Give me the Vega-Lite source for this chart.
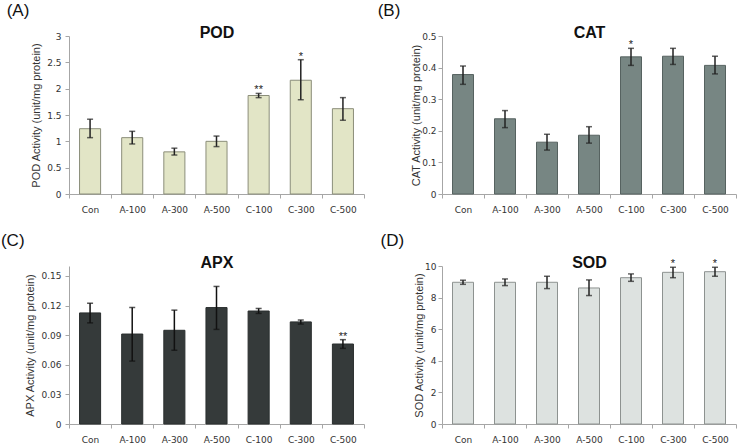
{
"$schema": "https://vega.github.io/schema/vega-lite/v6.json",
"background": "white",
"padding": {"left": 0, "top": 2, "right": 0, "bottom": 0},
"datasets": {
 "pod": [
  {"g":"Con","v":1.24,"lo":1.07,"hi":1.42,"s":""},
  {"g":"A-100","v":1.07,"lo":0.95,"hi":1.19,"s":""},
  {"g":"A-300","v":0.80,"lo":0.74,"hi":0.87,"s":""},
  {"g":"A-500","v":1.00,"lo":0.90,"hi":1.10,"s":""},
  {"g":"C-100","v":1.87,"lo":1.83,"hi":1.91,"s":"**"},
  {"g":"C-300","v":2.16,"lo":1.79,"hi":2.55,"s":"*"},
  {"g":"C-500","v":1.62,"lo":1.40,"hi":1.83,"s":""}
 ],
 "cat": [
  {"g":"Con","v":0.378,"lo":0.347,"hi":0.405,"s":""},
  {"g":"A-100","v":0.238,"lo":0.210,"hi":0.264,"s":""},
  {"g":"A-300","v":0.164,"lo":0.139,"hi":0.189,"s":""},
  {"g":"A-500","v":0.186,"lo":0.161,"hi":0.213,"s":""},
  {"g":"C-100","v":0.434,"lo":0.407,"hi":0.461,"s":"*"},
  {"g":"C-300","v":0.436,"lo":0.410,"hi":0.461,"s":""},
  {"g":"C-500","v":0.407,"lo":0.380,"hi":0.436,"s":""}
 ],
 "apx": [
  {"g":"Con","v":0.1125,"lo":0.1024,"hi":0.1223,"s":""},
  {"g":"A-100","v":0.0911,"lo":0.0637,"hi":0.1180,"s":""},
  {"g":"A-300","v":0.0949,"lo":0.0747,"hi":0.1153,"s":""},
  {"g":"A-500","v":0.1179,"lo":0.0958,"hi":0.1393,"s":""},
  {"g":"C-100","v":0.1144,"lo":0.1120,"hi":0.1170,"s":""},
  {"g":"C-300","v":0.1034,"lo":0.1012,"hi":0.1053,"s":""},
  {"g":"C-500","v":0.0810,"lo":0.0766,"hi":0.0854,"s":"**"}
 ],
 "sod": [
  {"g":"Con","v":8.97,"lo":8.84,"hi":9.10,"s":""},
  {"g":"A-100","v":8.97,"lo":8.76,"hi":9.18,"s":""},
  {"g":"A-300","v":8.97,"lo":8.57,"hi":9.35,"s":""},
  {"g":"A-500","v":8.61,"lo":8.13,"hi":9.12,"s":""},
  {"g":"C-100","v":9.26,"lo":9.03,"hi":9.50,"s":""},
  {"g":"C-300","v":9.60,"lo":9.26,"hi":9.92,"s":"*"},
  {"g":"C-500","v":9.64,"lo":9.35,"hi":9.92,"s":"*"}
 ]
},
"config": {
 "font": "Liberation Sans",
 "view": {"stroke": null},
 "axis": {"domainColor": "#a6a6a6", "tickColor": "#a6a6a6", "grid": false, "labelColor": "#333333", "labelFont": "DejaVu Sans", "labelFontSize": 9, "titleFont": "Liberation Sans", "titleFontSize": 11, "titleFontWeight": "normal", "titleColor": "#333333", "tickSize": 4, "labelPadding": 4, "titlePadding": 5, "labelOverlap": false},
 "axisX": {"labelPadding": 7},
 "title": {"font": "Liberation Sans", "color": "#111111", "anchor": "start", "fontSize": 17, "fontWeight": "normal", "offset": 4}
},
"columns": 2,
"bounds": "flush",
"spacing": {"row": 72, "column": 78},
"concat": [
 {
  "width": 295, "height": 158,
  "title": {"text": "(A)", "dx": -24},
  "data": {"name": "pod"},
  "resolve": {"axis": {"x": "independent", "y": "independent"}},
  "layer": [
   {"mark": {"type": "bar", "width": {"band": 0.5}, "fill": "#e2e5c6", "stroke": "#8b8e7a", "strokeWidth": 1}, "encoding": {"x": {"field": "g", "type": "nominal", "sort": null, "scale": {"paddingInner": 0, "paddingOuter": 0}, "axis": {"title": null, "labelAngle": 0, "tickBand": "extent"}}, "y": {"field": "v", "type": "quantitative", "scale": {"domain": [0, 3]}, "axis": {"title": "POD Activity (unit/mg protein)", "values": [0, 0.5, 1, 1.5, 2, 2.5, 3], "format": "~r"}}}},
   {"mark": {"type": "rule", "color": "#222222", "strokeWidth": 1.5}, "encoding": {"x": {"field": "g", "type": "nominal", "sort": null, "axis": null}, "y": {"field": "lo", "type": "quantitative", "axis": null}, "y2": {"field": "hi"}}},
   {"mark": {"type": "tick", "color": "#222222", "size": 6, "thickness": 1.5}, "encoding": {"x": {"field": "g", "type": "nominal", "sort": null, "axis": null}, "y": {"field": "lo", "type": "quantitative", "axis": null}}},
   {"mark": {"type": "tick", "color": "#222222", "size": 6, "thickness": 1.5}, "encoding": {"x": {"field": "g", "type": "nominal", "sort": null, "axis": null}, "y": {"field": "hi", "type": "quantitative", "axis": null}}},
   {"mark": {"type": "text", "baseline": "alphabetic", "dy": 0, "fontSize": 11, "color": "#222222"}, "encoding": {"x": {"field": "g", "type": "nominal", "sort": null, "axis": {"orient": "top", "title": "POD", "labels": false, "ticks": false, "domain": false, "titleFontSize": 16, "titleFontWeight": "bold", "titleColor": "#111111", "titlePadding": -4}}, "y": {"field": "hi", "type": "quantitative", "axis": null}, "text": {"field": "s"}}}
  ]
 },
 {
  "width": 294, "height": 158,
  "title": {"text": "(B)", "dx": -33},
  "data": {"name": "cat"},
  "resolve": {"axis": {"x": "independent", "y": "independent"}},
  "layer": [
   {"mark": {"type": "bar", "width": {"band": 0.5}, "fill": "#778683", "stroke": "#566260", "strokeWidth": 1}, "encoding": {"x": {"field": "g", "type": "nominal", "sort": null, "scale": {"paddingInner": 0, "paddingOuter": 0}, "axis": {"title": null, "labelAngle": 0, "tickBand": "extent"}}, "y": {"field": "v", "type": "quantitative", "scale": {"domain": [0, 0.5]}, "axis": {"title": "CAT Activity (unit/mg protein)", "values": [0, 0.1, 0.2, 0.3, 0.4, 0.5], "format": "~r", "titlePadding": 0, "labelPadding": 2}}}},
   {"mark": {"type": "rule", "color": "#222222", "strokeWidth": 1.5}, "encoding": {"x": {"field": "g", "type": "nominal", "sort": null, "axis": null}, "y": {"field": "lo", "type": "quantitative", "axis": null}, "y2": {"field": "hi"}}},
   {"mark": {"type": "tick", "color": "#222222", "size": 6, "thickness": 1.5}, "encoding": {"x": {"field": "g", "type": "nominal", "sort": null, "axis": null}, "y": {"field": "lo", "type": "quantitative", "axis": null}}},
   {"mark": {"type": "tick", "color": "#222222", "size": 6, "thickness": 1.5}, "encoding": {"x": {"field": "g", "type": "nominal", "sort": null, "axis": null}, "y": {"field": "hi", "type": "quantitative", "axis": null}}},
   {"mark": {"type": "text", "baseline": "alphabetic", "dy": 0, "fontSize": 11, "color": "#222222"}, "encoding": {"x": {"field": "g", "type": "nominal", "sort": null, "axis": {"orient": "top", "title": "CAT", "labels": false, "ticks": false, "domain": false, "titleFontSize": 16, "titleFontWeight": "bold", "titleColor": "#111111", "titlePadding": -4}}, "y": {"field": "hi", "type": "quantitative", "axis": null}, "text": {"field": "s"}}}
  ]
 },
 {
  "width": 295, "height": 158,
  "title": {"text": "(C)", "dx": -24},
  "data": {"name": "apx"},
  "resolve": {"axis": {"x": "independent", "y": "independent"}},
  "layer": [
   {"mark": {"type": "bar", "width": {"band": 0.5}, "fill": "#353a3a", "stroke": "#2a2e2e", "strokeWidth": 1}, "encoding": {"x": {"field": "g", "type": "nominal", "sort": null, "scale": {"paddingInner": 0, "paddingOuter": 0}, "axis": {"title": null, "labelAngle": 0, "tickBand": "extent"}}, "y": {"field": "v", "type": "quantitative", "scale": {"domain": [0, 0.15]}, "axis": {"title": "APX Activity (unit/mg protein)", "values": [0, 0.03, 0.06, 0.09, 0.12, 0.15], "format": "~r"}}}},
   {"mark": {"type": "rule", "color": "#111111", "strokeWidth": 1.5}, "encoding": {"x": {"field": "g", "type": "nominal", "sort": null, "axis": null}, "y": {"field": "lo", "type": "quantitative", "axis": null}, "y2": {"field": "hi"}}},
   {"mark": {"type": "tick", "color": "#111111", "size": 6, "thickness": 1.5}, "encoding": {"x": {"field": "g", "type": "nominal", "sort": null, "axis": null}, "y": {"field": "lo", "type": "quantitative", "axis": null}}},
   {"mark": {"type": "tick", "color": "#111111", "size": 6, "thickness": 1.5}, "encoding": {"x": {"field": "g", "type": "nominal", "sort": null, "axis": null}, "y": {"field": "hi", "type": "quantitative", "axis": null}}},
   {"mark": {"type": "text", "baseline": "alphabetic", "dy": 0, "fontSize": 11, "color": "#222222"}, "encoding": {"x": {"field": "g", "type": "nominal", "sort": null, "axis": {"orient": "top", "title": "APX", "labels": false, "ticks": false, "domain": false, "titleFontSize": 16, "titleFontWeight": "bold", "titleColor": "#111111", "titlePadding": -4}}, "y": {"field": "hi", "type": "quantitative", "axis": null}, "text": {"field": "s"}}}
  ]
 },
 {
  "width": 294, "height": 158,
  "title": {"text": "(D)", "dx": -33},
  "data": {"name": "sod"},
  "resolve": {"axis": {"x": "independent", "y": "independent"}},
  "layer": [
   {"mark": {"type": "bar", "width": {"band": 0.5}, "fill": "#dde2e0", "stroke": "#8d9290", "strokeWidth": 1}, "encoding": {"x": {"field": "g", "type": "nominal", "sort": null, "scale": {"paddingInner": 0, "paddingOuter": 0}, "axis": {"title": null, "labelAngle": 0, "tickBand": "extent"}}, "y": {"field": "v", "type": "quantitative", "scale": {"domain": [0, 10]}, "axis": {"title": "SOD Activity (unit/mg protein)", "values": [0, 2, 4, 6, 8, 10], "format": "~r", "titlePadding": 0, "labelPadding": 2}}}},
   {"mark": {"type": "rule", "color": "#222222", "strokeWidth": 1.5}, "encoding": {"x": {"field": "g", "type": "nominal", "sort": null, "axis": null}, "y": {"field": "lo", "type": "quantitative", "axis": null}, "y2": {"field": "hi"}}},
   {"mark": {"type": "tick", "color": "#222222", "size": 6, "thickness": 1.5}, "encoding": {"x": {"field": "g", "type": "nominal", "sort": null, "axis": null}, "y": {"field": "lo", "type": "quantitative", "axis": null}}},
   {"mark": {"type": "tick", "color": "#222222", "size": 6, "thickness": 1.5}, "encoding": {"x": {"field": "g", "type": "nominal", "sort": null, "axis": null}, "y": {"field": "hi", "type": "quantitative", "axis": null}}},
   {"mark": {"type": "text", "baseline": "alphabetic", "dy": 0, "fontSize": 11, "color": "#222222"}, "encoding": {"x": {"field": "g", "type": "nominal", "sort": null, "axis": {"orient": "top", "title": "SOD", "labels": false, "ticks": false, "domain": false, "titleFontSize": 16, "titleFontWeight": "bold", "titleColor": "#111111", "titlePadding": -4}}, "y": {"field": "hi", "type": "quantitative", "axis": null}, "text": {"field": "s"}}}
  ]
 }
]
}
